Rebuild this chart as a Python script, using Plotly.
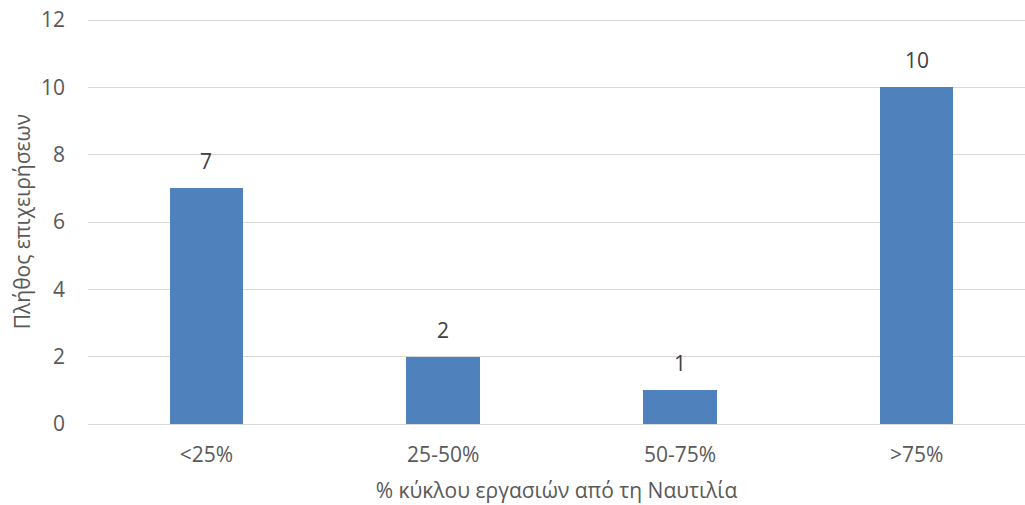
import plotly.graph_objects as go

categories = ["<25%", "25-50%", "50-75%", ">75%"]
counts = [7, 2, 1, 10]
y_ticks = [0, 2, 4, 6, 8, 10, 12]

x_title = "% κύκλου εργασιών από τη Ναυτιλία"
y_title = "Πλήθος επιχειρήσεων"

FONT = "Open Sans"
TXT = "#595959"
BAR = "#4f81bd"
FS = 21

fig = go.Figure()
fig.add_trace(go.Bar(
    x=categories, y=counts, width=0.31,
    marker=dict(color=BAR, line=dict(width=0)),
    hoverinfo="x+y",
))

for c, v in zip(categories, counts):
    fig.add_annotation(x=c, y=v, text=str(v), showarrow=False,
                       yshift=27, font=dict(family=FONT, size=FS, color="#404040"))

fig.update_layout(
    width=1025, height=505,
    margin=dict(l=88, r=0, t=19, b=81),
    paper_bgcolor="white", plot_bgcolor="white",
    font=dict(family=FONT, size=FS, color=TXT),
    showlegend=False,
    bargap=0,
    xaxis=dict(
        type="category", automargin=False,
        range=[-0.5, 3.457],
        showgrid=False, zeroline=False, showline=False,
        ticks="", ticklabelstandoff=16, tickfont=dict(size=FS, color=TXT),
        title=dict(text=x_title, font=dict(size=FS, color=TXT), standoff=16),
    ),
    yaxis=dict(
        range=[0, 12.03], tickvals=y_ticks, automargin=False,
        showgrid=True, gridcolor="#d9d9d9", gridwidth=1.3,
        zeroline=True, zerolinecolor="#d9d9d9", zerolinewidth=1.3,
        showline=False, ticks="",
        ticklabelstandoff=22,
        tickfont=dict(size=FS, color=TXT),
        title=dict(text=y_title, font=dict(size=FS, color=TXT), standoff=4),
    ),
)

fig.write_html("out.html",
               config={"displayModeBar": False},
               post_script="document.body.style.margin='0';document.body.style.overflow='hidden';")
